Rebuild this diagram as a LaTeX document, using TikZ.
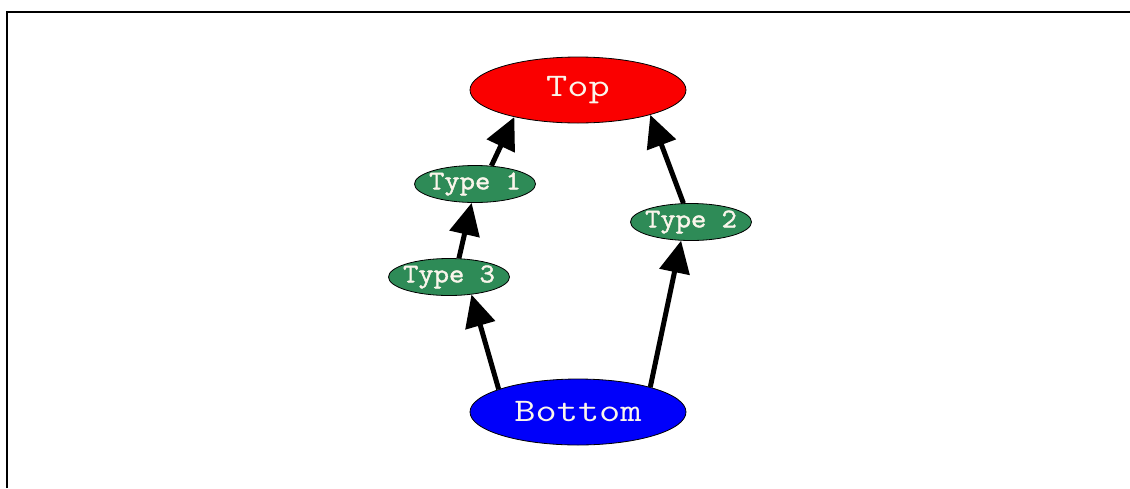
\documentclass[tikz,border=0pt]{standalone}
\usepackage{fontspec}
\newfontfamily\bigfont[FakeStretch=1.25]{Latin Modern Mono}
\newfontfamily\typefont[FakeStretch=1.1,FakeBold=1.6]{Latin Modern Mono}
\usetikzlibrary{shapes.geometric,arrows.meta}
\definecolor{topred}{RGB}{250,0,0}
\definecolor{typegreen}{RGB}{46,139,87}
\definecolor{botblue}{RGB}{0,0,250}
\definecolor{labelwhite}{RGB}{250,245,235}
\tikzset{
  bignode/.style={ellipse,draw=black,line width=0.8pt,minimum width=216pt,minimum height=66pt,inner sep=0pt,text=labelwhite,font=\bigfont\fontsize{33}{33}\selectfont},
  typenode/.style={ellipse,draw=black,line width=0.8pt,fill=typegreen,minimum width=121pt,minimum height=37pt,inner xsep=-6pt,inner ysep=-1pt,text=labelwhite,font=\typefont\fontsize{27}{27}\selectfont},
  edge/.style={line width=5pt,-{Triangle[length=32pt,width=30pt]}}
}
\begin{document}
\begin{tikzpicture}[x=1pt,y=-1pt]
\useasboundingbox (0,0) rectangle (1130,488);
\fill[white] (0,0) rectangle (1130,488);
\coordinate (tl) at (7,12);
\coordinate (tr) at (1130,12);
\coordinate (bl) at (7,488);
\draw[line width=2pt] (bl) -- (tl) -- (tr);
\node[bignode,fill=topred] (top) at (578,90) {Top};
\node[bignode,fill=botblue] (bottom) at (578,412) {Bottom};
\node[typenode] (type1) at (475,184) {Type 1};
\node[typenode] (type3) at (449,277) {Type 3};
\node[typenode] (type2) at (691,222) {Type 2};
\draw[edge] (bottom.164) -- (type3.-38);
\draw[edge] (type3.62) -- (type1.-100);
\draw[edge] (type1.48) -- (top.-157);
\draw[edge] (bottom.19) -- (type2.-118);
\draw[edge] (type2.112) -- (top.-19);
\end{tikzpicture}
\end{document}
